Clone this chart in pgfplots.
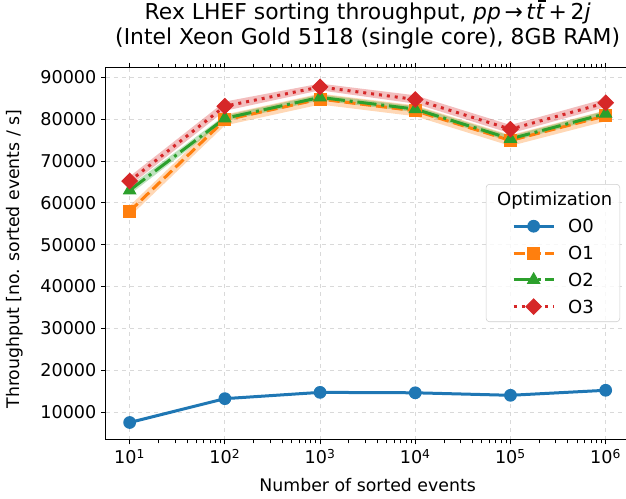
\documentclass[border=0pt]{standalone}
\usepackage{fontspec}
\setmainfont{DejaVu Sans}
\usepackage{pgfplots}
\pgfplotsset{compat=1.18}

\definecolor{c0}{HTML}{1F77B4}
\definecolor{c1}{HTML}{FF7F0E}
\definecolor{c2}{HTML}{2CA02C}
\definecolor{c3}{HTML}{D62728}

% 1 px of the reference = 0.75pt
\begin{document}
\begin{tikzpicture}
\begin{axis}[
    name=ax,
    scale only axis,
    width=392.7pt, height=279.15pt,
    xmode=log,
    xmin=5.6234, xmax=1778279,
    ymin=3430, ymax=92390,
    xtick={10,100,1000,10000,100000,1000000},
    xticklabels={10\textsuperscript{1},10\textsuperscript{2},10\textsuperscript{3},10\textsuperscript{4},10\textsuperscript{5},10\textsuperscript{6}},
    minor xtick={},
    ytick={10000,20000,...,90000},
    scaled y ticks=false,
    yticklabel style={/pgf/number format/.cd, fixed, 1000 sep={}, assume math mode=true},
    ticklabel style={font=\fontsize{13.2}{15}\selectfont},
    tick align=outside,
    major tick length=3.6pt,
    tick style={black, line width=0.6pt},
    axis line style={line width=0.6pt},
    grid=major,
    major grid style={dashed, black!15, line width=0.6pt},
    xlabel={Number of sorted events},
    xlabel style={font=\fontsize{13}{15}\selectfont, at={(axis description cs:0.5,-0.1384)}, anchor=base},
    ylabel={Throughput [no. sorted events / s]},
    ylabel style={font=\fontsize{13}{15}\selectfont, at={(axis description cs:-0.165,0.485)}, anchor=base},
    title={Rex LHEF sorting throughput, \textit{pp}\,→\,\textit{t}\textit{t}\llap{\rule[0.80em]{0.34em}{0.065em}\hspace{-0.03em}}\,+\,2\textit{j}\\(Intel Xeon Gold 5118 (single core), 8GB RAM)},
    title style={font=\fontsize{16.4}{19}\selectfont, align=center, at={(axis description cs:0.5,1)}, anchor=south, yshift=4pt},
    legend style={at={(axis description cs:0.982,0.6865)}, anchor=north east,
        draw=black!20, rounded corners=2.5pt, fill=white, fill opacity=0.8, text opacity=1,
        font=\fontsize{13.5}{16}\selectfont,
        inner xsep=19.5pt, inner ysep=5pt, row sep=7.4pt, column sep=9.75pt,
        nodes={inner sep=0pt}},
    legend cell align=left,
    legend image code/.code={\draw[opacity=1, mark repeat=2, mark phase=2] plot coordinates {(0pt,0pt) (15pt,0pt) (30pt,0pt)};},
]

% uncertainty bands
\addplot[draw=none, fill=c0, fill opacity=0.3, forget plot] coordinates {
    (10,7650) (100,13350) (1000,14850) (10000,14750) (100000,14150) (1000000,15350)
    (1000000,15050) (100000,13850) (10000,14450) (1000,14550) (100,13050) (10,7350)} -- cycle;
\addplot[draw=none, fill=c1, fill opacity=0.3, forget plot] coordinates {
    (10,59300) (100,81100) (1000,86100) (10000,83300) (100000,76200) (1000000,82100)
    (1000000,79500) (100000,73600) (10000,80700) (1000,83500) (100,78500) (10,56700)} -- cycle;
\addplot[draw=none, fill=c2, fill opacity=0.3, forget plot] coordinates {
    (10,64000) (100,80900) (1000,85900) (10000,83100) (100000,76000) (1000000,82000)
    (1000000,80600) (100000,74600) (10000,81700) (1000,84500) (100,79500) (10,62000)} -- cycle;
\addplot[draw=none, fill=c3, fill opacity=0.3, forget plot] coordinates {
    (10,66300) (100,84200) (1000,88500) (10000,85700) (100000,78600) (1000000,84900)
    (1000000,82900) (100000,76600) (10000,83700) (1000,86900) (100,82000) (10,64100)} -- cycle;

\addlegendimage{empty legend}
\addlegendentry{\strut\makebox[19.2pt][l]{\hspace*{-53.25pt}Optimization}}

\addplot[c0, line width=2.25pt, mark=*, mark size=4.4pt, mark options={solid, line width=0.75pt}]
    coordinates {(10,7500) (100,13200) (1000,14700) (10000,14600) (100000,14000) (1000000,15200)};
\addlegendentry{\strut O0}
\addplot[c1, line width=2.25pt, dash pattern=on 8.3pt off 3.6pt, mark=square*, mark size=4.5pt, mark options={solid, line width=0.75pt}]
    coordinates {(10,58000) (100,79800) (1000,84800) (10000,82000) (100000,74900) (1000000,80800)};
\addlegendentry{\strut O1}
\addplot[c2, line width=2.25pt, dash pattern=on 14.4pt off 3.6pt on 2.25pt off 3.6pt, mark=triangle*, mark size=5.2pt, mark options={solid, line width=0.75pt}]
    coordinates {(10,63000) (100,80200) (1000,85200) (10000,82400) (100000,75300) (1000000,81300)};
\addlegendentry{\strut O2}
\addplot[c3, line width=2.25pt, dash pattern=on 2.25pt off 3.7pt, mark=square*, mark size=4.1pt, mark options={solid, line width=0.75pt, rotate=45}]
    coordinates {(10,65200) (100,83100) (1000,87700) (10000,84700) (100000,77600) (1000000,83900)};
\addlegendentry{\strut O3}
\end{axis}
\pgfresetboundingbox
\path ([shift={(-79.4pt,-44.6pt)}]ax.south west) rectangle ++(469.5pt,374.25pt);
\end{tikzpicture}
\end{document}
